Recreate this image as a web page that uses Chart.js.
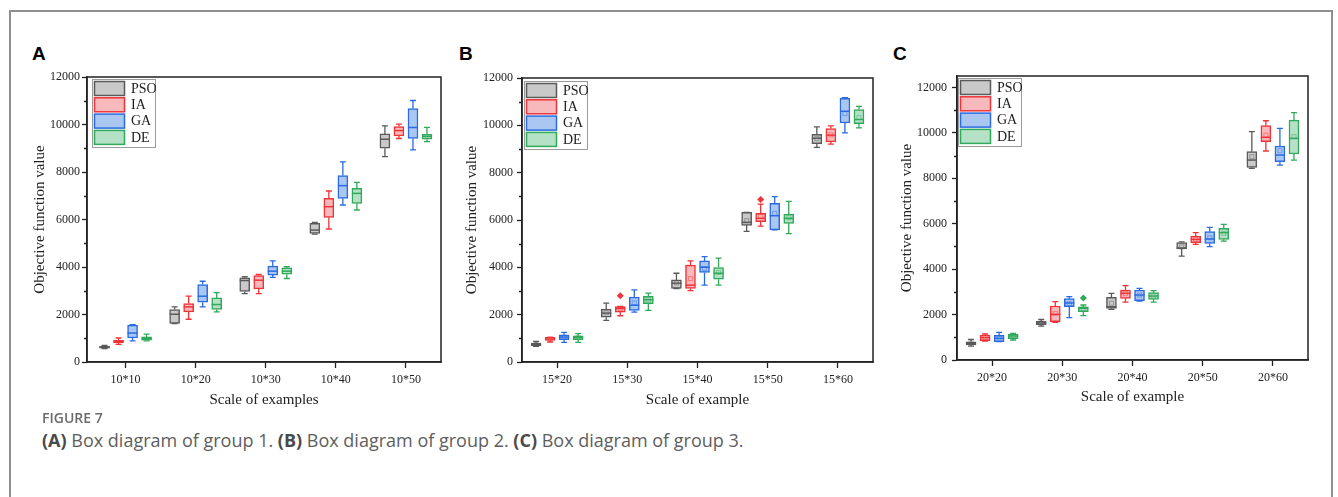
<!DOCTYPE html>
<html>
<head>
<meta charset="utf-8">
<script src="https://cdn.jsdelivr.net/npm/chart.js@4.4.1/dist/chart.umd.min.js"></script>
<style>
  body { margin: 0; background: #fff; width: 1338px; height: 497px; overflow: hidden; position: relative; }
  .frame { position: absolute; left: 9px; top: 10px; width: 1320px; height: 600px; border: 2px solid #8f8f8f; }
  .letter { position: absolute; top: 44px; font: bold 19px 'Liberation Sans', Arial, sans-serif; line-height: 19px; color: #000; }
  canvas { position: absolute; top: 60px; }
  .fig-label { position: absolute; left: 42px; top: 411px; font: 600 14px 'Open Sans', sans-serif; line-height: 14px; color: #6a6a6a; }
  .caption { position: absolute; left: 42px; top: 430px; font: 18px 'Open Sans', sans-serif; line-height: 20px; color: #5e5e5e; }
  .caption b { color: #4a4a4a; }
</style>
</head>
<body>
<div class="frame"></div>
<div class="letter" style="left:32px">A</div>
<div class="letter" style="left:459px">B</div>
<div class="letter" style="left:893px">C</div>
<canvas id="chartA" width="430" height="350" style="left:20px"></canvas>
<canvas id="chartB" width="430" height="350" style="left:455px"></canvas>
<canvas id="chartC" width="430" height="350" style="left:890px"></canvas>
<div class="fig-label">FIGURE 7</div>
<div class="caption"><b>(A)</b> Box diagram of group 1. <b>(B)</b> Box diagram of group 2. <b>(C)</b> Box diagram of group 3.</div>

<script>
// Box diagrams of objective function values for three groups

const seriesNames = ['PSO', 'IA', 'GA', 'DE'];
const categoriesA = ['10*10', '10*20', '10*30', '10*40', '10*50'];
const categoriesB = ['15*20', '15*30', '15*40', '15*50', '15*60'];
const categoriesC = ['20*20', '20*30', '20*40', '20*50', '20*60'];
const yTickValues = [0, 2000, 4000, 6000, 8000, 10000, 12000];
const yMinorValues = [1000, 3000, 5000, 7000, 9000, 11000];

// each entry: [min, q1, median, q3, max]
const groupA_PSO = [[560, 580, 620, 660, 700], [1620, 1620, 2010, 2210, 2320], [2880, 2970, 3430, 3545, 3590], [5385, 5415, 5555, 5835, 5880], [8650, 9000, 9380, 9605, 9945]];
const groupA_IA = [[745, 800, 870, 915, 1010], [1800, 2110, 2320, 2460, 2770], [2880, 3080, 3445, 3640, 3685], [5600, 6090, 6540, 6890, 7200], [9410, 9520, 9745, 9915, 10015]];
const groupA_GA = [[890, 1010, 1220, 1550, 1575], [2320, 2520, 2770, 3260, 3400], [3560, 3660, 3825, 4040, 4260], [6610, 6890, 7425, 7850, 8425], [8930, 9410, 9875, 10675, 11010]];
const groupA_DE = [[890, 915, 985, 1055, 1170], [2110, 2210, 2420, 2700, 2925], [3515, 3700, 3825, 3965, 4010], [6400, 6680, 7100, 7310, 7565], [9280, 9380, 9495, 9590, 9875]];

const groupB_PSO = [[660, 690, 730, 800, 870], [1755, 1895, 2065, 2235, 2490], [3105, 3105, 3330, 3470, 3750], [5520, 5775, 5900, 6320, 6320], [9065, 9230, 9455, 9625, 9935]];
const groupB_IA = [[845, 915, 970, 1040, 1040], [1955, 2110, 2260, 2345, 2345], [3020, 3105, 3245, 4090, 4270], [5745, 5930, 6070, 6280, 6675], [9205, 9300, 9585, 9865, 9975]];
const groupB_GA = [[830, 940, 1055, 1150, 1250], [2110, 2180, 2400, 2740, 3050], [3245, 3780, 4005, 4270, 4455], [5580, 5580, 6180, 6700, 6985], [9680, 10100, 10595, 11140, 11170]];
const groupB_DE = [[830, 940, 1040, 1110, 1195], [2180, 2460, 2630, 2770, 2910], [3245, 3500, 3750, 3990, 4385], [5425, 5860, 6070, 6250, 6785], [9890, 10075, 10245, 10665, 10805]];
const meansB_PSO = [740, 2080, 3340, 5970, 9440];
const meansB_IA = [975, 2250, 3525, 6150, 9600];
const meansB_GA = [1050, 2500, 3950, 6280, 10495];
const meansB_DE = [1030, 2620, 3780, 6100, 10330];
const outliersB_IA = [null, 2795, null, 6870, null];

const groupC_PSO = [[615, 660, 735, 805, 910], [1495, 1555, 1630, 1700, 1790], [2230, 2275, 2345, 2760, 2935], [4575, 4885, 4930, 5165, 5195], [8435, 8480, 8800, 9170, 10050]];
const groupC_IA = [[835, 850, 985, 1100, 1145], [1660, 1685, 2010, 2375, 2565], [2550, 2715, 2935, 3080, 3270], [5090, 5165, 5310, 5455, 5605], [9200, 9610, 9800, 10315, 10530]];
const groupC_GA = [[805, 805, 955, 1085, 1220], [1865, 2345, 2510, 2700, 2785], [2595, 2610, 2860, 3080, 3155], [4990, 5135, 5325, 5650, 5840], [8580, 8730, 9020, 9420, 10195]];
const groupC_DE = [[880, 940, 1055, 1130, 1175], [1950, 2125, 2275, 2345, 2420], [2550, 2670, 2815, 2965, 3050], [5235, 5310, 5605, 5795, 5970], [8800, 9065, 9755, 10560, 10885]];
const meansC_PSO = [760, 1640, 2500, 4980, 8950];
const meansC_IA = [990, 2050, 2920, 5320, 9900];
const meansC_GA = [960, 2480, 2860, 5380, 9210];
const meansC_DE = [1050, 2260, 2820, 5570, 9830];
const outliersC_DE = [null, 2730, null, null, null];

const strokeColors = ['#5a5a5a', '#ef3337', '#2a6be2', '#2fa95a'];
const fillColors = ['#c9c9c9', '#f8b9bd', '#a9c7f1', '#b5e1c7'];
const seriesOffsets = [-0.3, -0.1, 0.1, 0.3];

Chart.defaults.font.family = "'Liberation Serif', 'Times New Roman', serif";
Chart.defaults.color = '#222';

/**
 * Whiskers, medians, means, outliers, plot frame, minor ticks and legend
 */
const boxExtras = {
  id: 'boxExtras',
  afterDatasetsDraw(chart) {
    const { ctx, scales: { y } } = chart;
    chart.data.datasets.forEach((ds, i) => {
      const meta = chart.getDatasetMeta(i);
      ctx.save();
      ctx.strokeStyle = ds.borderColor;
      ctx.fillStyle = ds.borderColor;
      ds.stats.forEach((st, j) => {
        const bar = meta.data[j];
        const cx = bar.x;
        const hw = bar.width / 2;
        const [mn, q1, med, q3, mx] = st.map((v) => y.getPixelForValue(v));
        ctx.lineWidth = 1.3;
        ctx.beginPath();
        ctx.moveTo(cx, q3); ctx.lineTo(cx, mx);
        ctx.moveTo(cx, q1); ctx.lineTo(cx, mn);
        ctx.moveTo(cx - 3, mx); ctx.lineTo(cx + 3, mx);
        ctx.moveTo(cx - 3, mn); ctx.lineTo(cx + 3, mn);
        ctx.stroke();
        ctx.lineWidth = 1.5;
        ctx.beginPath();
        ctx.moveTo(cx - hw, med); ctx.lineTo(cx + hw, med);
        ctx.stroke();
        if (ds.means) {
          const my = y.getPixelForValue(ds.means[j]);
          ctx.save();
          ctx.globalAlpha = 0.45;
          ctx.lineWidth = 1;
          ctx.strokeRect(cx - 2, my - 2, 4, 4);
          ctx.restore();
        }
        if (ds.outliers && ds.outliers[j] != null) {
          const oy = y.getPixelForValue(ds.outliers[j]);
          ctx.beginPath();
          ctx.moveTo(cx, oy - 3.5); ctx.lineTo(cx + 3.5, oy);
          ctx.lineTo(cx, oy + 3.5); ctx.lineTo(cx - 3.5, oy);
          ctx.closePath();
          ctx.fill();
        }
      });
      ctx.restore();
    });
  },
  afterDraw(chart, args, opts) {
    const { ctx, chartArea: area, scales: { y } } = chart;
    ctx.save();
    ctx.strokeStyle = '#222';
    ctx.lineWidth = 1.5;
    ctx.strokeRect(area.left, area.top, area.right - area.left, area.bottom - area.top);
    ctx.lineWidth = 1.3;
    ctx.beginPath();
    yMinorValues.forEach((v) => {
      const py = Math.round(y.getPixelForValue(v)) + 0.5;
      ctx.moveTo(area.left - 3, py); ctx.lineTo(area.left, py);
    });
    ctx.stroke();

    // legend box inside the plot
    const lx = area.left + opts.legendX;
    const ly = area.top + opts.legendY;
    ctx.fillStyle = '#fff';
    ctx.fillRect(lx, ly, 63, 68);
    ctx.strokeStyle = '#9a9a9a';
    ctx.lineWidth = 1;
    ctx.strokeRect(lx + 0.5, ly + 0.5, 63, 68);
    ctx.font = "14px 'Liberation Serif', serif";
    ctx.textBaseline = 'middle';
    seriesNames.forEach((name, s) => {
      const sy = ly + 2.5 + s * 16.3;
      ctx.fillStyle = fillColors[s];
      ctx.fillRect(lx + 2.5, sy, 30, 14);
      ctx.strokeStyle = strokeColors[s];
      ctx.lineWidth = 1.5;
      ctx.strokeRect(lx + 2.5, sy, 30, 14);
      ctx.fillStyle = '#222';
      ctx.fillText(name, lx + 39, sy + 7.5);
    });
    ctx.restore();
  },
};

function makeBoxChart(canvasId, cfg) {
  const datasets = seriesNames.map((name, s) => ({
    label: name,
    data: cfg.stats[s].map((st, c) => ({ x: c + 1 + seriesOffsets[s], y: [st[1], st[3]] })),
    stats: cfg.stats[s],
    means: cfg.means ? cfg.means[s] : null,
    outliers: cfg.outliers ? cfg.outliers[s] : null,
    backgroundColor: fillColors[s],
    borderColor: strokeColors[s],
    borderWidth: 1.5,
    borderSkipped: false,
    grouped: false,
    barThickness: 10,
    maxBarThickness: 10,
  }));

  return new Chart(document.getElementById(canvasId), {
    type: 'bar',
    data: { datasets },
    plugins: [boxExtras],
    options: {
      responsive: false,
      animation: false,
      devicePixelRatio: 1,
      layout: { padding: { left: 0, right: cfg.padRight, top: cfg.padTop, bottom: 0 } },
      plugins: {
        legend: { display: false },
        tooltip: { enabled: false },
        boxExtras: { legendX: cfg.legendX, legendY: cfg.legendY },
      },
      scales: {
        x: {
          type: 'linear',
          offset: false,
          min: cfg.xMin,
          max: 5.5,
          afterBuildTicks: (sc) => { sc.ticks = cfg.categories.map((_, i) => ({ value: i + 1 })); },
          afterFit: (sc) => { sc.height = cfg.xHeight; },
          ticks: {
            callback: (v) => cfg.categories[Math.round(v) - 1],
            font: { size: 12 },
            color: '#222',
            padding: 5,
            maxRotation: 0,
            autoSkip: false,
          },
          grid: { offset: false, drawOnChartArea: false, tickLength: 6, tickColor: '#222', tickWidth: 1.3 },
          border: { color: '#222', width: 1.5 },
          title: { display: true, text: cfg.xTitle, font: { size: 15 }, color: '#222', padding: { top: 0, bottom: cfg.xTitlePad } },
        },
        y: {
          min: 0,
          max: cfg.yMax,
          afterBuildTicks: (sc) => { sc.ticks = yTickValues.map((v) => ({ value: v })); },
          afterFit: (sc) => { sc.width = 67; },
          ticks: { callback: (v) => String(v), font: { size: 12 }, color: '#222', padding: cfg.yTickPad },
          grid: { drawOnChartArea: false, tickLength: 5, tickColor: '#222', tickWidth: 1.3 },
          border: { color: '#222', width: 1.5 },
          title: { display: true, text: 'Objective function value', font: { size: 15 }, color: '#222', padding: { top: cfg.yTitlePad, bottom: 0 } },
        },
      },
    },
  });
}

makeBoxChart('chartA', {
  categories: categoriesA,
  stats: [groupA_PSO, groupA_IA, groupA_GA, groupA_DE],
  xTitle: 'Scale of examples',
  xMin: 0.45, yMax: 12000,
  padTop: 17, padRight: 9, xHeight: 48,
  yTickPad: 2, yTitlePad: 11, xTitlePad: 1,
  legendX: 5, legendY: 2,
});

makeBoxChart('chartB', {
  categories: categoriesB,
  stats: [groupB_PSO, groupB_IA, groupB_GA, groupB_DE],
  means: [meansB_PSO, meansB_IA, meansB_GA, meansB_DE],
  outliers: [null, outliersB_IA, null, null],
  xTitle: 'Scale of example',
  xMin: 0.5, yMax: 12000,
  padTop: 18, padRight: 12, xHeight: 48,
  yTickPad: 4, yTitlePad: 8, xTitlePad: 1,
  legendX: 2, legendY: 3,
});

makeBoxChart('chartC', {
  categories: categoriesC,
  stats: [groupC_PSO, groupC_IA, groupC_GA, groupC_DE],
  means: [meansC_PSO, meansC_IA, meansC_GA, meansC_DE],
  outliers: [null, null, null, outliersC_DE],
  xTitle: 'Scale of example',
  xMin: 0.5, yMax: 12500,
  padTop: 16, padRight: 12, xHeight: 50,
  yTickPad: 5, yTitlePad: 8, xTitlePad: 4,
  legendX: 1, legendY: 2,
});
</script>
</body>
</html>
